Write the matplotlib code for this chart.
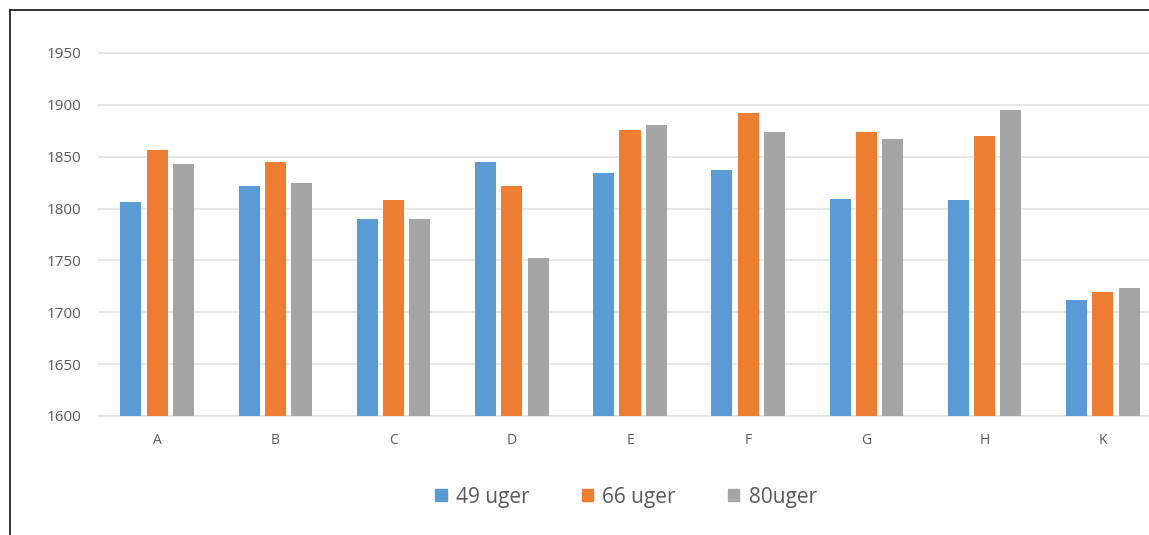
import matplotlib
matplotlib.use("Agg")
import matplotlib.pyplot as plt
from matplotlib.lines import Line2D
import numpy as np

categories = ["A", "B", "C", "D", "E", "F", "G", "H", "K"]
uger_49 = [1806, 1822, 1790, 1845, 1834, 1837, 1809, 1808, 1712]
uger_66 = [1856, 1845, 1808, 1822, 1876, 1892, 1874, 1870, 1720]
uger_80 = [1843, 1825, 1790, 1752, 1881, 1874, 1867, 1895, 1723]
series_labels = ["49 uger", "66 uger", "80uger"]
colors = ["#5B9BD5", "#ED7D31", "#A5A5A5"]
yticks = [1600, 1650, 1700, 1750, 1800, 1850, 1900, 1950]

plt.rcParams["font.family"] = ["Open Sans", "DejaVu Sans"]

W, H = 1149, 535
fig = plt.figure(figsize=(W / 100, H / 100), dpi=100)

# plot area in pixel terms, converted to figure fractions
left_px, right_px = 98, 1162
top_px, bottom_px = 33, 416
ax = fig.add_axes([left_px / W, 1 - bottom_px / H,
                   (right_px - left_px) / W, (bottom_px - top_px) / H])

x = np.arange(len(categories))
slot = 0.222
width = 0.178
for i, (vals, c, lab) in enumerate(zip([uger_49, uger_66, uger_80], colors, series_labels)):
    base = np.array(vals) - 1600
    ax.bar(x + (i - 1) * slot, base, bottom=1600, width=width, color=c,
           label=lab, zorder=3)

ax.set_xlim(-0.5, len(categories) - 0.5)
ax.set_ylim(1600, 1600 + 350 * (bottom_px - top_px) / 363)
ax.set_yticks(yticks)
ax.set_xticks(x)
ax.set_xticklabels(categories)
ax.yaxis.grid(True, color="#E3E3E3", linewidth=1.2, zorder=0)
for s in ["top", "right", "left"]:
    ax.spines[s].set_visible(False)
ax.spines["bottom"].set_color("#E0E0E0")
ax.spines["bottom"].set_linewidth(1.2)
ax.tick_params(axis="both", length=0, colors="#595959", labelsize=11)
ax.tick_params(axis="x", labelsize=10)
ax.tick_params(axis="y", pad=12)
ax.tick_params(axis="x", pad=12)

handles = [plt.Rectangle((0, 0), 1, 1, color=c) for c in colors]
fig.legend(handles, series_labels, loc="center", bbox_to_anchor=(626 / W, 1 - 497 / H),
           ncol=3, frameon=False, fontsize=15, handlelength=0.55, handleheight=0.55,
           handletextpad=0.45, columnspacing=2.5, labelcolor="#595959")

# outer frame (left and top edges)
fig.add_artist(Line2D([9.5 / W, 9.5 / W], [0, 1 - 10 / H], transform=fig.transFigure,
                      color="#222222", linewidth=1.3))
fig.add_artist(Line2D([9.5 / W, 1], [1 - 10 / H, 1 - 10 / H], transform=fig.transFigure,
                      color="#222222", linewidth=1.3))

fig.savefig("out.png", dpi=100)
